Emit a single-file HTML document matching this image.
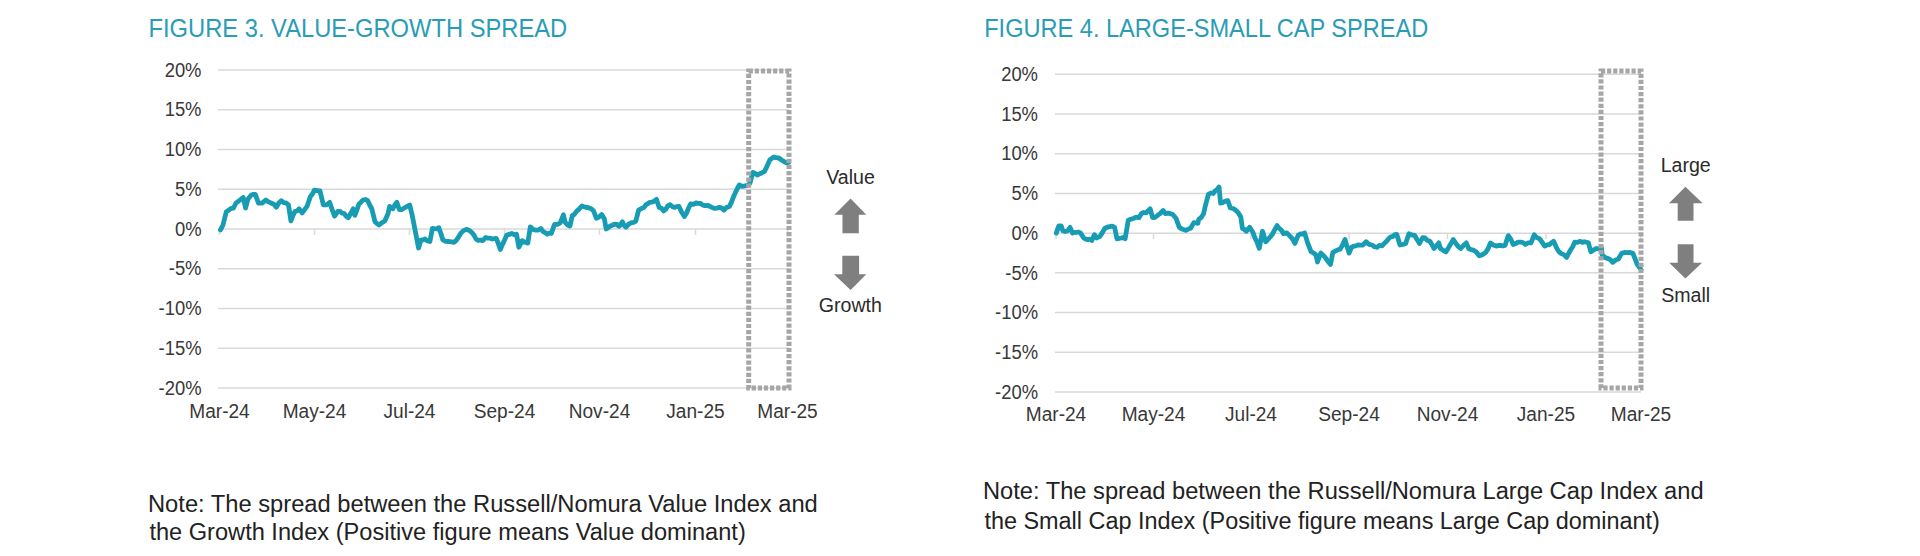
<!DOCTYPE html>
<html><head><meta charset="utf-8"><style>
html,body{margin:0;padding:0;background:#fff;width:1920px;height:556px;overflow:hidden}
svg{display:block}
text{font-family:"Liberation Sans",sans-serif}
.t{fill:#2a9cb6;font-size:26.5px}
.g{stroke:#d9d9d9;stroke-width:1.5;fill:none}
.yl{fill:#383838;font-size:20px;text-anchor:end}
.xl{fill:#383838;font-size:20px;text-anchor:middle}
.ln{fill:none;stroke:#179cb4;stroke-width:4.8;stroke-linejoin:round;stroke-linecap:round}
.bx{fill:none;stroke:#a6a6a6;stroke-width:5;stroke-dasharray:4.2 1.9}
.ar{fill:#7f7f7f}
.lb{fill:#2b2b2b;font-size:19.6px;text-anchor:middle}
.nt{fill:#222;font-size:23.5px}
</style></head><body>
<svg width="1920" height="556" viewBox="0 0 1920 556">
<text x="148.5" y="37" class="t" textLength="418.7" lengthAdjust="spacingAndGlyphs">FIGURE 3. VALUE-GROWTH SPREAD</text>
<text x="984.2" y="37" class="t" textLength="444" lengthAdjust="spacingAndGlyphs">FIGURE 4. LARGE-SMALL CAP SPREAD</text>
<line x1="218" y1="70.00" x2="789" y2="70.00" class="g"/>
<line x1="218" y1="109.75" x2="789" y2="109.75" class="g"/>
<line x1="218" y1="149.50" x2="789" y2="149.50" class="g"/>
<line x1="218" y1="189.25" x2="789" y2="189.25" class="g"/>
<line x1="218" y1="268.75" x2="789" y2="268.75" class="g"/>
<line x1="218" y1="308.50" x2="789" y2="308.50" class="g"/>
<line x1="218" y1="348.25" x2="789" y2="348.25" class="g"/>
<line x1="218" y1="388.00" x2="789" y2="388.00" class="g"/>
<line x1="218" y1="229.00" x2="789" y2="229.00" class="g"/>
<line x1="219.5" y1="229.00" x2="219.5" y2="235.00" class="g"/>
<line x1="314.5" y1="229.00" x2="314.5" y2="235.00" class="g"/>
<line x1="409.5" y1="229.00" x2="409.5" y2="235.00" class="g"/>
<line x1="504.5" y1="229.00" x2="504.5" y2="235.00" class="g"/>
<line x1="599.5" y1="229.00" x2="599.5" y2="235.00" class="g"/>
<line x1="695.5" y1="229.00" x2="695.5" y2="235.00" class="g"/>
<line x1="787.5" y1="229.00" x2="787.5" y2="235.00" class="g"/>
<text x="201.5" y="76.70" class="yl" textLength="36.83" lengthAdjust="spacingAndGlyphs">20%</text>
<text x="201.5" y="116.45" class="yl" textLength="36.83" lengthAdjust="spacingAndGlyphs">15%</text>
<text x="201.5" y="156.20" class="yl" textLength="36.83" lengthAdjust="spacingAndGlyphs">10%</text>
<text x="201.5" y="195.95" class="yl" textLength="26.59" lengthAdjust="spacingAndGlyphs">5%</text>
<text x="201.5" y="235.70" class="yl" textLength="26.59" lengthAdjust="spacingAndGlyphs">0%</text>
<text x="201.5" y="275.45" class="yl" textLength="32.72" lengthAdjust="spacingAndGlyphs">-5%</text>
<text x="201.5" y="315.20" class="yl" textLength="42.95" lengthAdjust="spacingAndGlyphs">-10%</text>
<text x="201.5" y="354.95" class="yl" textLength="42.95" lengthAdjust="spacingAndGlyphs">-15%</text>
<text x="201.5" y="394.70" class="yl" textLength="42.95" lengthAdjust="spacingAndGlyphs">-20%</text>
<text x="219.5" y="418.2" class="xl" textLength="60.50" lengthAdjust="spacingAndGlyphs">Mar-24</text>
<text x="314.5" y="418.2" class="xl" textLength="63.69" lengthAdjust="spacingAndGlyphs">May-24</text>
<text x="409.5" y="418.2" class="xl" textLength="52.02" lengthAdjust="spacingAndGlyphs">Jul-24</text>
<text x="504.5" y="418.2" class="xl" textLength="61.59" lengthAdjust="spacingAndGlyphs">Sep-24</text>
<text x="599.5" y="418.2" class="xl" textLength="61.57" lengthAdjust="spacingAndGlyphs">Nov-24</text>
<text x="695.5" y="418.2" class="xl" textLength="58.40" lengthAdjust="spacingAndGlyphs">Jan-25</text>
<text x="787.5" y="418.2" class="xl" textLength="60.50" lengthAdjust="spacingAndGlyphs">Mar-25</text>
<polyline points="220.5,229.9 223,225 226.2,212 229.4,209.6 231.4,208.3 233.5,208 235.9,203.2 237.9,201.7 240,200 243.2,197.5 245.6,208 248,199 251.3,195 253.3,194.4 255.3,194.3 258.5,203.2 261.8,203.2 263.8,201.8 265.8,200 268.6,201.9 271.5,203.2 273.9,204.3 276.3,207.2 278.8,203 281.2,200.7 283.6,202.7 286.1,203 288.5,204.8 290.9,221 292.9,215.6 295,211.3 297,211 299,208.8 302.2,212.9 304.6,209.6 307,206.4 310.3,196.7 312.4,194.1 314.4,190.2 317.2,190.6 320,191 323.3,204.8 326.5,204.8 329.7,202.4 332.1,209.5 334.6,216.1 337.8,211.3 340,211.4 342.1,213.2 344.3,213.7 346.3,216.4 348.3,217.7 350.8,213.3 353.2,208.8 354.8,215.3 356.9,210.1 358.9,204 360.9,202.3 362.9,200 365.4,199.5 367.8,200.7 369.8,205.3 371.8,208.8 375,221.8 377.1,223.6 379.1,225 382,222.6 384.8,221 388,213.7 389.6,206.4 392.9,208.8 394.9,204.7 396.9,202.4 399.3,209.6 401.8,209.5 404.2,208 406.9,206.5 409.7,205.1 412.1,214.8 415.4,231.8 418.6,248 421,239.9 423.1,239.9 425.1,239 427.5,241 429.9,241.5 432.4,228.5 434.5,228.7 436.7,228.8 438.8,227.7 440.9,233.6 442.9,239.9 445.7,241.3 448.5,241.5 451.4,241.8 454.2,242.3 456.4,240.2 458.5,237.1 460.7,233.4 463.5,230.6 466.3,229.4 469.1,230.3 472,232.6 474,235.2 476,239 478.2,240.5 480.3,240 482.5,240.7 485.8,237.4 487.9,238.2 490.1,238.1 492.2,239 494.2,238.7 496.3,238.3 498.3,243.7 500.3,249.6 502.5,244.4 504.6,240 506.8,235 509.2,234.4 511.7,233.4 514.1,234.6 516.5,234.2 518.9,247.2 522.2,240.7 525,242.3 527.8,243.1 530.3,226.9 533.1,229.4 535.9,230.2 538.3,230.1 540.8,228.5 542.9,231.4 545.1,232.6 547.2,234.2 549.2,233.1 551.3,233.4 554.5,224.5 557.4,224.4 560.2,222.9 563.4,214.8 565,222.1 567.5,225 569.9,226.1 572.3,215.6 574.3,214.4 576.4,211.6 579.2,208.9 582,205.9 584.9,207.1 587.7,207.5 590,208.3 591.8,209.1 593.6,211 596.3,218.2 599,217.1 601.7,214.6 604.4,219.1 606.2,229 608,227.8 609.8,226.3 612.2,225.3 614.6,224.2 617,224.5 618.8,226.3 620.6,224.8 622.4,221.8 624.2,225.5 626,227.2 628.7,224.1 631.4,222.7 633.6,222.4 635.9,220.9 638.6,210.1 641.3,208.6 644,207.4 645.8,204.9 647.6,203.8 649.8,202.3 652,202.1 654.3,201.2 656.5,199.4 659.2,207.4 661.5,208.3 663.7,211 665.8,209.1 667.9,205.9 670,204.7 672.2,206.5 674.5,207.4 676.8,206.6 679,206.5 681.7,212.2 684.4,216.4 686.5,213.2 688.6,208 690.7,203.8 693.4,204.4 696.1,203 698.4,203.3 700.6,203.5 702.9,205.1 705.1,205.6 707.4,205.3 709.6,206.3 711.9,207.4 714.1,208.3 716.8,208.1 719.5,207.4 721.8,208.1 724,210.1 726.7,207.4 729.4,206.5 731.6,201.9 733.9,195.8 736.6,190 739.3,185 742,186.4 744.7,185.9 747.4,185.3 750,183.2 752.8,172.4 755,173.5 757.3,175 759.7,173.8 762.1,172.7 764.5,171.5 767.2,165.9 769.9,159.8 771.7,158.6 773.5,157.1 776.1,157.7 778.8,158 781.5,160 784.2,161.6 786.5,162.9 788.7,162.5" class="ln"/>
<rect x="748.7" y="71" width="40.299999999999955" height="317" class="bx"/>
<line x1="1055" y1="74.30" x2="1641" y2="74.30" class="g"/>
<line x1="1055" y1="114.01" x2="1641" y2="114.01" class="g"/>
<line x1="1055" y1="153.72" x2="1641" y2="153.72" class="g"/>
<line x1="1055" y1="193.43" x2="1641" y2="193.43" class="g"/>
<line x1="1055" y1="272.85" x2="1641" y2="272.85" class="g"/>
<line x1="1055" y1="312.56" x2="1641" y2="312.56" class="g"/>
<line x1="1055" y1="352.27" x2="1641" y2="352.27" class="g"/>
<line x1="1055" y1="391.98" x2="1641" y2="391.98" class="g"/>
<line x1="1055" y1="233.14" x2="1641" y2="233.14" class="g"/>
<line x1="1056" y1="233.14" x2="1056" y2="239.14" class="g"/>
<line x1="1153.5" y1="233.14" x2="1153.5" y2="239.14" class="g"/>
<line x1="1251" y1="233.14" x2="1251" y2="239.14" class="g"/>
<line x1="1349" y1="233.14" x2="1349" y2="239.14" class="g"/>
<line x1="1447.5" y1="233.14" x2="1447.5" y2="239.14" class="g"/>
<line x1="1546" y1="233.14" x2="1546" y2="239.14" class="g"/>
<line x1="1641" y1="233.14" x2="1641" y2="239.14" class="g"/>
<text x="1038" y="81.00" class="yl" textLength="36.83" lengthAdjust="spacingAndGlyphs">20%</text>
<text x="1038" y="120.71" class="yl" textLength="36.83" lengthAdjust="spacingAndGlyphs">15%</text>
<text x="1038" y="160.42" class="yl" textLength="36.83" lengthAdjust="spacingAndGlyphs">10%</text>
<text x="1038" y="200.13" class="yl" textLength="26.59" lengthAdjust="spacingAndGlyphs">5%</text>
<text x="1038" y="239.84" class="yl" textLength="26.59" lengthAdjust="spacingAndGlyphs">0%</text>
<text x="1038" y="279.55" class="yl" textLength="32.72" lengthAdjust="spacingAndGlyphs">-5%</text>
<text x="1038" y="319.26" class="yl" textLength="42.95" lengthAdjust="spacingAndGlyphs">-10%</text>
<text x="1038" y="358.97" class="yl" textLength="42.95" lengthAdjust="spacingAndGlyphs">-15%</text>
<text x="1038" y="398.68" class="yl" textLength="42.95" lengthAdjust="spacingAndGlyphs">-20%</text>
<text x="1056" y="420.8" class="xl" textLength="60.50" lengthAdjust="spacingAndGlyphs">Mar-24</text>
<text x="1153.5" y="420.8" class="xl" textLength="63.69" lengthAdjust="spacingAndGlyphs">May-24</text>
<text x="1251" y="420.8" class="xl" textLength="52.02" lengthAdjust="spacingAndGlyphs">Jul-24</text>
<text x="1349" y="420.8" class="xl" textLength="61.59" lengthAdjust="spacingAndGlyphs">Sep-24</text>
<text x="1447.5" y="420.8" class="xl" textLength="61.57" lengthAdjust="spacingAndGlyphs">Nov-24</text>
<text x="1546" y="420.8" class="xl" textLength="58.40" lengthAdjust="spacingAndGlyphs">Jan-25</text>
<text x="1641" y="420.8" class="xl" textLength="60.50" lengthAdjust="spacingAndGlyphs">Mar-25</text>
<polyline points="1056.3,233.1 1058.8,225.8 1061.2,225.8 1062.8,230.7 1065.2,231.5 1067.7,230.7 1070.1,227.4 1072.5,233.1 1074.5,232.3 1076.6,232.3 1078.6,232 1080.6,233.1 1083.8,238 1085.8,239.1 1087.9,239.6 1089.9,239.1 1091.9,240.4 1094.4,234.7 1096.8,238 1100,236.3 1102.5,232.4 1104.9,228.3 1107.3,227.2 1109.7,226.6 1112.2,226.1 1114.6,227.4 1117,238.8 1119,238.4 1121,238 1123,237.5 1125.1,238.8 1128.3,220.2 1130.8,219.2 1133.2,218.5 1136.1,217.2 1138.9,217.7 1141.3,213.7 1143.7,212.5 1146.1,212.9 1148.2,210.7 1150.2,208.8 1152.6,217.7 1154.7,217.6 1156.7,216.1 1159.9,213.7 1163.1,210.5 1165.6,213.7 1168,213.2 1170.4,213.7 1172.8,214.5 1176.1,218.5 1179.3,227.4 1181.8,228.9 1184.2,229.9 1186.3,230.3 1188.5,229 1190.6,228.3 1193.9,222.6 1195.9,222.8 1197.9,223.4 1198.7,219.4 1201.2,217.5 1203.6,213.7 1205.2,206.4 1208.4,194.3 1210.8,193 1213.3,193.5 1214.9,191 1217,189.7 1219,187 1220.6,203.2 1223,202.4 1225.5,201.1 1227.9,200.7 1230.3,208 1233.2,208.5 1236,210.5 1238.4,212.9 1240.8,216.9 1242.4,228.3 1244.3,229.4 1246.3,231.3 1249.6,227.2 1252.8,232.1 1255,238.1 1257.1,242.3 1259.3,248.3 1262.5,231.3 1265.7,241.8 1267.9,239.5 1270,237.2 1272.2,234.5 1274.7,229.8 1277.1,225.6 1279.2,228.4 1281.4,230.1 1283.5,233.7 1286.8,232.9 1290,236.1 1292.5,238.9 1294.9,243.4 1298.1,235.3 1300.3,233.9 1302.4,234.1 1304.6,232.9 1307.8,243.4 1311,251.5 1313.5,253 1315.9,254.7 1317.5,262 1320.8,253.1 1323.2,255.2 1325.6,258 1328,261.4 1330.5,264.4 1332.9,252.3 1335.3,251.1 1337.8,249.8 1340.2,249.1 1342.6,244.8 1345,239.4 1347,246.6 1349.1,253.1 1351.5,247.4 1353.7,246.1 1355.8,245.9 1358,245 1360.4,245.1 1362.8,245 1366.1,241.8 1368.1,243.8 1370.2,244.7 1372.2,245 1374.2,246.6 1376.9,247.3 1379.5,245.3 1382.2,245.8 1384.4,243.2 1386.5,241.4 1388.7,238.5 1390.7,236.8 1392.8,236.5 1394.8,234.6 1396.8,234.5 1400,245 1402.8,244.5 1405.7,243.4 1408.9,233.7 1411.8,235 1414.6,235.3 1417,239.5 1419.5,243.4 1422.7,237.7 1425,238 1427.5,240.4 1429.9,241.3 1431.9,244.5 1433.9,248.5 1436.3,246.1 1438.8,242.9 1440.4,248.5 1443.2,250.3 1446,251.8 1448.4,247.9 1450.9,243.6 1453.3,239.6 1455.7,243.2 1458.2,246.4 1460.6,248.5 1463.4,245.6 1466.3,242.9 1468.7,248.5 1471.1,249.7 1473.5,250.2 1476.3,252.1 1479.2,255.8 1481.4,255.1 1483.5,254 1485.7,252.6 1488.1,248.7 1490.5,242.9 1493.3,245.1 1496.2,246.1 1498.4,245.5 1500.7,245.5 1502.9,245.8 1505.1,245.3 1508.3,235.6 1510.8,239.1 1513.2,244.5 1515.6,243.6 1518.1,242.2 1520.5,242.1 1522.9,242.5 1525.3,244.5 1528.2,242.8 1531,242.9 1534.2,234.8 1536.6,237.5 1539.1,238.4 1541.5,241.3 1544.7,246.1 1547.2,244.8 1549.6,244.5 1551.6,242.7 1553.6,241.3 1556.9,248.5 1558.9,251.7 1560.9,253.4 1563.8,254.6 1566.6,257.4 1568.6,253.5 1570.7,249.8 1572.7,246.7 1574.7,242.1 1577.5,242.3 1580.3,241.3 1582.3,242.4 1584.3,241.7 1586.4,242.3 1588.4,242.9 1590.9,251.8 1593.7,249.9 1596.5,248.5 1599,248.9 1601.4,247.7 1602.2,255 1605,257.6 1607.8,258.3 1610.2,259.6 1612.7,262.3 1615.6,260 1618.4,259 1621.6,253.4 1624.4,252.5 1627.3,252.6 1630.1,252.5 1632.9,253.4 1635,258.6 1637,263.9 1639,266.9 1641,269.6" class="ln"/>
<rect x="1601" y="71" width="40" height="317" class="bx"/>
<text x="850.5" y="183.6" class="lb">Value</text>
<text x="850.3" y="311.5" class="lb">Growth</text>
<path d="M850.6,198.5 L866.3,214.7 L858.8,214.7 L858.8,233.2 L842.5,233.2 L842.5,214.7 L834.4,214.7 Z" class="ar"/>
<path d="M842.3,255.8 L859.1,255.8 L859.1,274.2 L866.3,274.2 L850.6,290 L834,274.2 L842.3,274.2 Z" class="ar"/>
<text x="1685.7" y="171.6" class="lb">Large</text>
<text x="1685.7" y="301.8" class="lb">Small</text>
<path d="M1685.4,186.7 L1702.6,203.3 L1693.5,203.3 L1693.5,220.8 L1677.7,220.8 L1677.7,203.3 L1669,203.3 Z" class="ar"/>
<path d="M1677.7,244.2 L1693.5,244.2 L1693.5,262.7 L1702,262.7 L1685.4,278.5 L1669.2,262.7 L1677.7,262.7 Z" class="ar"/>
<text x="148" y="512" class="nt" textLength="669.8" lengthAdjust="spacingAndGlyphs">Note: The spread between the Russell/Nomura Value Index and</text>
<text x="149.4" y="540" class="nt" textLength="596.4" lengthAdjust="spacingAndGlyphs">the Growth Index (Positive figure means Value dominant)</text>
<text x="983" y="499" class="nt" textLength="720.6" lengthAdjust="spacingAndGlyphs">Note: The spread between the Russell/Nomura Large Cap Index and</text>
<text x="984.4" y="528.8" class="nt" textLength="675.4" lengthAdjust="spacingAndGlyphs">the Small Cap Index (Positive figure means Large Cap dominant)</text>
</svg>
</body></html>
